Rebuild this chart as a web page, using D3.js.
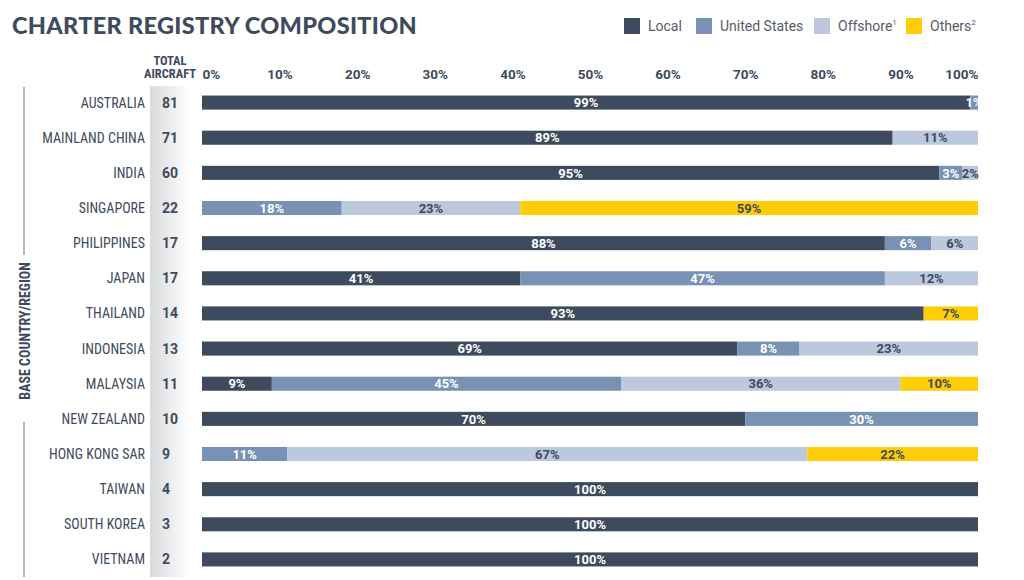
<!DOCTYPE html>
<html>
<head>
<meta charset="utf-8">
<script src="https://cdn.jsdelivr.net/npm/d3@7"></script>
<style>
  body { margin: 0; background: #fff; }
  svg { display: block; }
  .cond { font-family: Roboto, sans-serif; font-stretch: 75%; }
  .cond2 { font-family: Roboto, sans-serif; font-stretch: 88%; }
</style>
</head>
<body>
<div id="chart"></div>
<script>
const width = 1024;
const height = 580;

// Data
const countries = ["AUSTRALIA", "MAINLAND CHINA", "INDIA", "SINGAPORE", "PHILIPPINES", "JAPAN", "THAILAND",
    "INDONESIA", "MALAYSIA", "NEW ZEALAND", "HONG KONG SAR", "TAIWAN", "SOUTH KOREA", "VIETNAM"];
const totals = [81, 71, 60, 22, 17, 17, 14, 13, 11, 10, 9, 4, 3, 2];
const local = [99, 89, 95, 0, 88, 41, 93, 69, 9, 70, 0, 100, 100, 100];
const unitedStates = [1, 0, 3, 18, 6, 47, 0, 8, 45, 30, 11, 0, 0, 0];
const offshore = [0, 11, 2, 23, 6, 12, 0, 23, 36, 0, 67, 0, 0, 0];
const others = [0, 0, 0, 59, 0, 0, 7, 0, 10, 0, 22, 0, 0, 0];
const seriesKeys = ["Local", "United States", "Offshore", "Others"];
const seriesSup = ["", "", "1", "2"];
const colors = ["#3d4b5c", "#7892b5", "#bcc8db", "#ffcd05"];
const labelColors = ["#ffffff", "#ffffff", "#3d4b5c", "#3d4b5c"];
const ticks = [0, 10, 20, 30, 40, 50, 60, 70, 80, 90, 100];

const rows = countries.map((c, i) => ({
    country: c,
    total: totals[i],
    "Local": local[i],
    "United States": unitedStates[i],
    "Offshore": offshore[i],
    "Others": others[i]
}));

const svg = d3.select("#chart")
    .append("svg")
    .attr("width", width)
    .attr("height", height);

const textColor = "#3d4b5c";

// Title
svg.append("text")
    .attr("x", 12)
    .attr("y", 34)
    .attr("fill", textColor)
    .style("font-family", "Lato, 'Open Sans', sans-serif")
    .style("font-weight", 900)
    .style("font-size", "23.5px")
    .style("letter-spacing", "0.3px")
    .text("CHARTER REGISTRY COMPOSITION");

// Legend
const legendX = [624, 696, 814, 906];
const legend = svg.append("g");
seriesKeys.forEach((k, i) => {
    legend.append("rect")
        .attr("x", legendX[i])
        .attr("y", 18)
        .attr("width", 16)
        .attr("height", 16)
        .attr("fill", colors[i]);
    const t = legend.append("text")
        .attr("x", legendX[i] + 24)
        .attr("y", 31)
        .attr("fill", "#555d68")
        .style("font-family", "Roboto, sans-serif")
        .style("font-size", "14px")
        .text(k);
    if (seriesSup[i]) {
        t.append("tspan")
            .attr("dy", -6)
            .style("font-size", "8px")
            .text(seriesSup[i]);
    }
});

// Scales
const x = d3.scaleLinear().domain([0, 100]).range([202, 978]);
const y = d3.scaleBand()
    .domain(countries)
    .range([85, 577])
    .paddingInner(0.6)
    .paddingOuter(0.3);

// Total aircraft column background
const defs = svg.append("defs");
const grad = defs.append("linearGradient").attr("id", "colGrad");
grad.append("stop").attr("offset", "0%").attr("stop-color", "#d9dadc");
grad.append("stop").attr("offset", "100%").attr("stop-color", "#ffffff");
svg.append("rect")
    .attr("x", 150)
    .attr("y", 86)
    .attr("width", 40)
    .attr("height", 491)
    .attr("fill", "url(#colGrad)");

// Header
const header = svg.append("text")
    .attr("class", "cond")
    .attr("fill", textColor)
    .style("font-weight", "bold")
    .style("font-size", "12.5px")
    .attr("text-anchor", "middle");
header.append("tspan").attr("x", 170).attr("y", 65).text("TOTAL");
header.append("tspan").attr("x", 170).attr("y", 78).text("AIRCRAFT");

// Top axis
const xAxis = d3.axisTop(x)
    .tickValues(ticks)
    .tickFormat(d => d + "%")
    .tickSize(0)
    .tickPadding(0);
const axisG = svg.append("g")
    .attr("transform", "translate(0,79)")
    .call(xAxis);
axisG.select(".domain").remove();
axisG.attr("font-family", null).attr("font-size", null);
axisG.selectAll("text")
    .attr("class", "cond2")
    .attr("fill", textColor)
    .style("font-weight", "bold")
    .style("font-size", "13.5px")
    .attr("text-anchor", d => d === 0 ? "start" : d === 100 ? "end" : "middle");

// Country labels
svg.append("g").selectAll("text")
    .data(rows)
    .join("text")
    .attr("class", "cond")
    .attr("x", 145)
    .attr("y", d => y(d.country) + y.bandwidth() / 2)
    .attr("dy", "0.36em")
    .attr("text-anchor", "end")
    .attr("fill", textColor)
    .style("font-size", "14px")
    .text(d => d.country);

// Totals
svg.append("g").selectAll("text")
    .data(rows)
    .join("text")
    .attr("class", "cond2")
    .attr("x", 162)
    .attr("y", d => y(d.country) + y.bandwidth() / 2)
    .attr("dy", "0.36em")
    .attr("fill", textColor)
    .style("font-weight", "bold")
    .style("font-size", "14px")
    .text(d => d.total);

// Side label with vertical lines
svg.append("line")
    .attr("x1", 24).attr("x2", 24)
    .attr("y1", 87).attr("y2", 255)
    .attr("stroke", "#9a9fa6").attr("stroke-width", 1.5);
svg.append("line")
    .attr("x1", 24).attr("x2", 24)
    .attr("y1", 422).attr("y2", 577)
    .attr("stroke", "#9a9fa6").attr("stroke-width", 1.5);
svg.append("text")
    .attr("class", "cond")
    .attr("transform", "translate(30,331) rotate(-90)")
    .attr("text-anchor", "middle")
    .attr("fill", textColor)
    .style("font-weight", "bold")
    .style("font-size", "14px")
    .text("BASE COUNTRY/REGION");

// Stacked bars
const stack = d3.stack().keys(seriesKeys);
const stacked = stack(rows);

const layers = svg.append("g").selectAll("g")
    .data(stacked)
    .join("g")
    .attr("fill", (d, i) => colors[i]);

layers.selectAll("rect")
    .data(d => d.map(v => ({ v, country: v.data.country })))
    .join("rect")
    .attr("x", d => x(d.v[0]))
    .attr("y", d => y(d.country))
    .attr("width", d => x(d.v[1]) - x(d.v[0]))
    .attr("height", y.bandwidth());

// Segment labels
const labels = svg.append("g");
stacked.forEach((layer, i) => {
    labels.selectAll(null)
        .data(layer.filter(v => v[1] - v[0] > 0))
        .join("text")
        .attr("class", "cond2")
        .attr("x", v => x((v[0] + v[1]) / 2))
        .attr("y", v => y(v.data.country) + y.bandwidth() / 2)
        .attr("dy", "0.36em")
        .attr("text-anchor", "middle")
        .attr("fill", labelColors[i])
        .style("font-weight", "bold")
        .style("font-size", "13px")
        .text(v => (v[1] - v[0]) + "%");
});
</script>
</body>
</html>
